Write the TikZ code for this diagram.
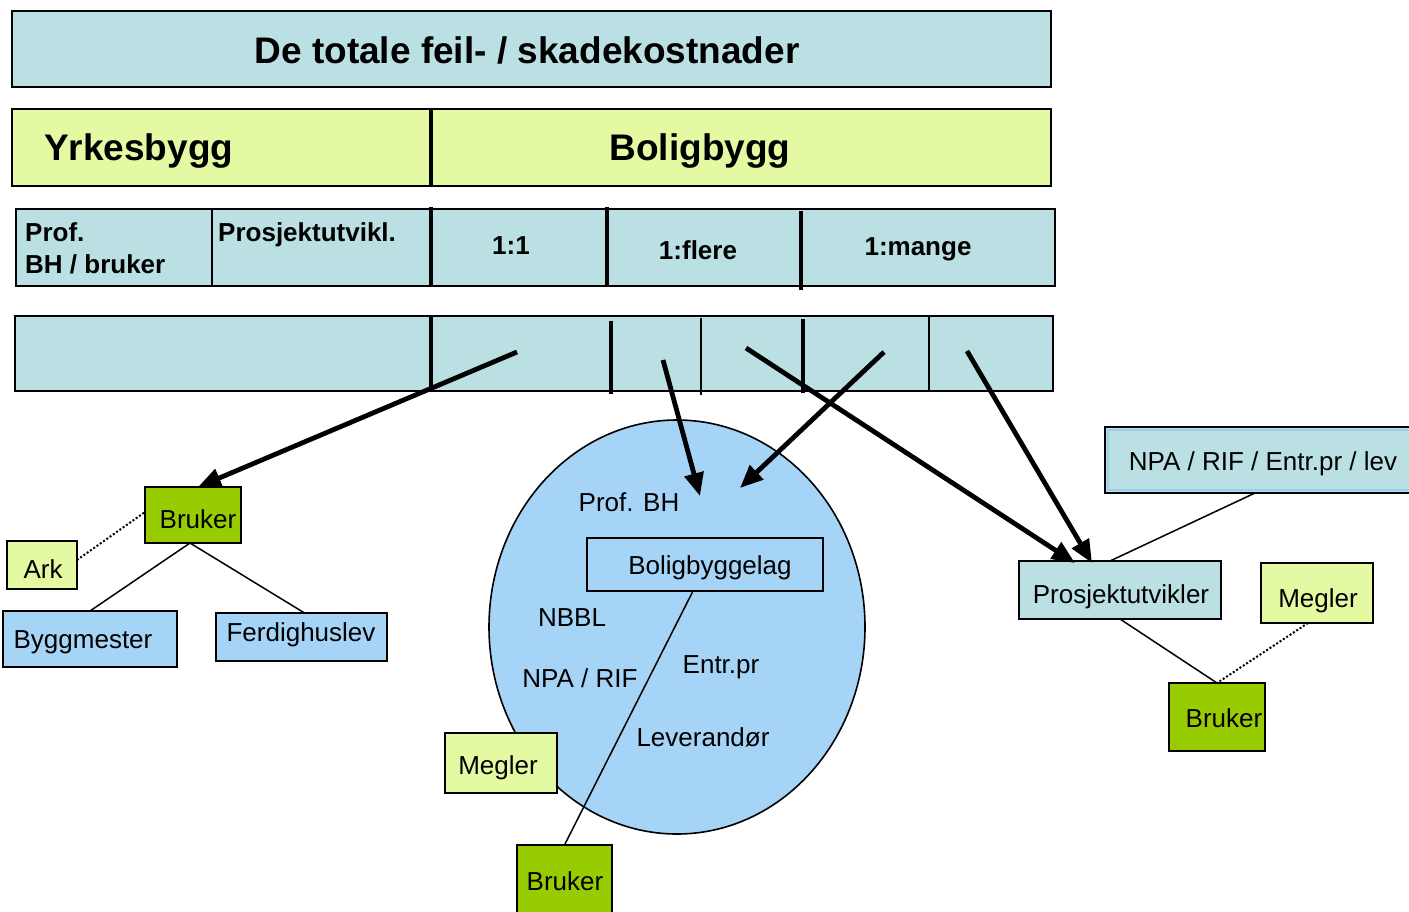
\documentclass[tikz,border=0pt]{standalone}
\usepackage{fontspec}
\setmainfont{Liberation Sans}
\usetikzlibrary{shapes.geometric,arrows.meta,calc}
\definecolor{cyanf}{HTML}{BBE0E3}
\definecolor{yelf}{HTML}{E3FAA3}
\definecolor{bluef}{HTML}{A6D4F7}
\definecolor{greenf}{HTML}{99CC00}
\definecolor{innerblue}{HTML}{9FCCF0}
\begin{document}
\begin{tikzpicture}[x=1pt,y=-1pt,
 box/.style={draw=black,line width=1.6pt,inner sep=0pt,outer sep=0pt,anchor=north west,font=\fontsize{26}{30}\selectfont},
 lbl/.style={inner sep=0pt,font=\fontsize{26}{30}\selectfont},
 blbl/.style={inner sep=0pt,font=\bfseries\fontsize{26}{30}\selectfont},
 hlbl/.style={inner sep=0pt,font=\bfseries\fontsize{37}{40}\selectfont},
 thickdiv/.style={line width=3.5pt},
 thindiv/.style={line width=1.2pt},
 bigarrow/.style={line width=4.8pt,-{Triangle[length=23pt,width=19pt]}},
 link/.style={line width=1.5pt},
 dotlink/.style={line width=2pt,dotted},
]
\useasboundingbox[fill=white] (0,0) rectangle (1409,911);

% top rows
\node[box,fill=cyanf,minimum width=1039,minimum height=76] (title) at (12,11) {};
\node[hlbl] (titletext) at (527,50) {De totale feil- / skadekostnader};

\node[box,fill=yelf,minimum width=1039,minimum height=77] (row2) at (12,109) {};
\draw[thickdiv] (431,109) -- (431,187);
\node[hlbl,anchor=west] (yrk) at (44,151) {Yrkesbygg};
\node[hlbl] (bol) at (700,151) {Boligbygg};

\node[box,fill=cyanf,minimum width=1039,minimum height=77] (row3) at (16,209) {};
\draw[thindiv] (212,209) -- (212,286);
\draw[thickdiv] (431,207) -- (431,286);
\draw[thickdiv] (607,207) -- (607,286);
\draw[thickdiv] (801,211) -- (801,290);
\node[blbl,anchor=base west] (prof1) at (25,241) {Prof.};
\node[blbl,anchor=base west] (prof2) at (25,273) {BH / bruker};
\node[blbl,anchor=base west] (prosjk) at (218,241) {Prosjektutvikl.};
\node[blbl] (c11) at (511,246) {1:1};
\node[blbl] (c1fl) at (698,250) {1:flere};
\node[blbl] (c1ma) at (918,249) {1:mange};

\node[box,fill=cyanf,minimum width=1038,minimum height=75] (row4) at (15,316) {};
\draw[thickdiv] (431,316) -- (431,391);
\draw[thickdiv] (611,321) -- (611,394);
\draw[thickdiv] (803,319) -- (803,393);
\draw[thindiv] (701,318) -- (701,395);
\draw[thindiv] (929,316) -- (929,392);

% ellipse cluster
\node[draw,line width=1.6pt,fill=bluef,ellipse,minimum width=376,minimum height=414,inner sep=0pt] (club) at (677,627) {};
\node[lbl] (profbh) at (629,502) {Prof. BH};
\node[box,minimum width=236,minimum height=53] (bbl) at (587,538) {};
\node[lbl] (bblt) at (710,568) {Boligbyggelag};
\node[lbl] (nbbl) at (572,618) {NBBL};
\node[lbl] (npar) at (580,678) {NPA / RIF};
\node[lbl] (entr) at (721,667) {Entr.pr};
\node[lbl] (lev) at (703,737) {Leverandør};
\node[box,fill=yelf,minimum width=112,minimum height=60] (megB) at (445,733) {};
\node[lbl] (megBt) at (498,768) {Megler};
\node[box,fill=greenf,minimum width=95,minimum height=75] (bruB) at (517,845) {};
\node[lbl] (bruBt) at (565,881) {Bruker};
\draw[link] ([xshift=-12]bbl.south) -- (bruB.north);

% left tree
\node[box,fill=greenf,minimum width=96,minimum height=56] (bruL) at (145,487) {};
\node[lbl] (bruLt) at (198,519) {Bruker};
\node[box,fill=yelf,minimum width=70,minimum height=48] (ark) at (7,541) {};
\node[lbl] (arkt) at (43,569) {Ark};
\node[box,fill=bluef,minimum width=174,minimum height=56] (byg) at (3,611) {};
\node[lbl] (bygt) at (83,642) {Byggmester};
\node[box,fill=bluef,minimum width=171,minimum height=48] (ferd) at (216,613) {};
\node[lbl] (ferdt) at (301,635) {Ferdighuslev};
\draw[link] ([xshift=-3]bruL.south) -- (byg.north);
\draw[link] ([xshift=-3]bruL.south) -- ([xshift=3]ferd.north);
\draw[dotlink] ([yshift=5]ark.east) -- ([yshift=3]bruL.west);

% right tree
\node[box,fill=cyanf,minimum width=330,minimum height=66] (npa) at (1105,427) {};
\draw[innerblue,line width=1.5pt] (1108,430) rectangle (1440,490);
\node[lbl] (npat) at (1263,464) {NPA / RIF / Entr.pr / lev};
\node[box,fill=cyanf,minimum width=202,minimum height=58] (prosj) at (1019,561) {};
\node[lbl] (prosjt) at (1121,597) {Prosjektutvikler};
\node[box,fill=yelf,minimum width=112,minimum height=60] (megR) at (1261,563) {};
\node[lbl] (megRt) at (1318,601) {Megler};
\node[box,fill=greenf,minimum width=96,minimum height=68] (bruR) at (1169,683) {};
\node[lbl] (bruRt) at (1224,718) {Bruker};
\draw[link] ([xshift=-15]npa.south) -- ([xshift=-10]prosj.north);
\draw[link] (prosj.south) -- (bruR.north);
\draw[dotlink] ([xshift=-9]megR.south) -- (bruR.north);

% arrows
\coordinate (a1s) at (517,352);
\coordinate (a2s) at (663,360);
\coordinate (a2e) at (700,496);
\coordinate (a3s) at (884,352);
\coordinate (a3e) at (740,488);
\coordinate (a4s) at (746,348);
\coordinate (a5s) at (967,351);
\draw[bigarrow] (a1s) -- ([xshift=5]bruL.north);
\draw[bigarrow] (a2s) -- (a2e);
\draw[bigarrow] (a3s) -- (a3e);
\draw[bigarrow] (a4s) -- ([xshift=-45,yshift=-2]prosj.north);
\draw[bigarrow] (a5s) -- ([xshift=-28,yshift=-2]prosj.north);
\end{tikzpicture}
\end{document}
